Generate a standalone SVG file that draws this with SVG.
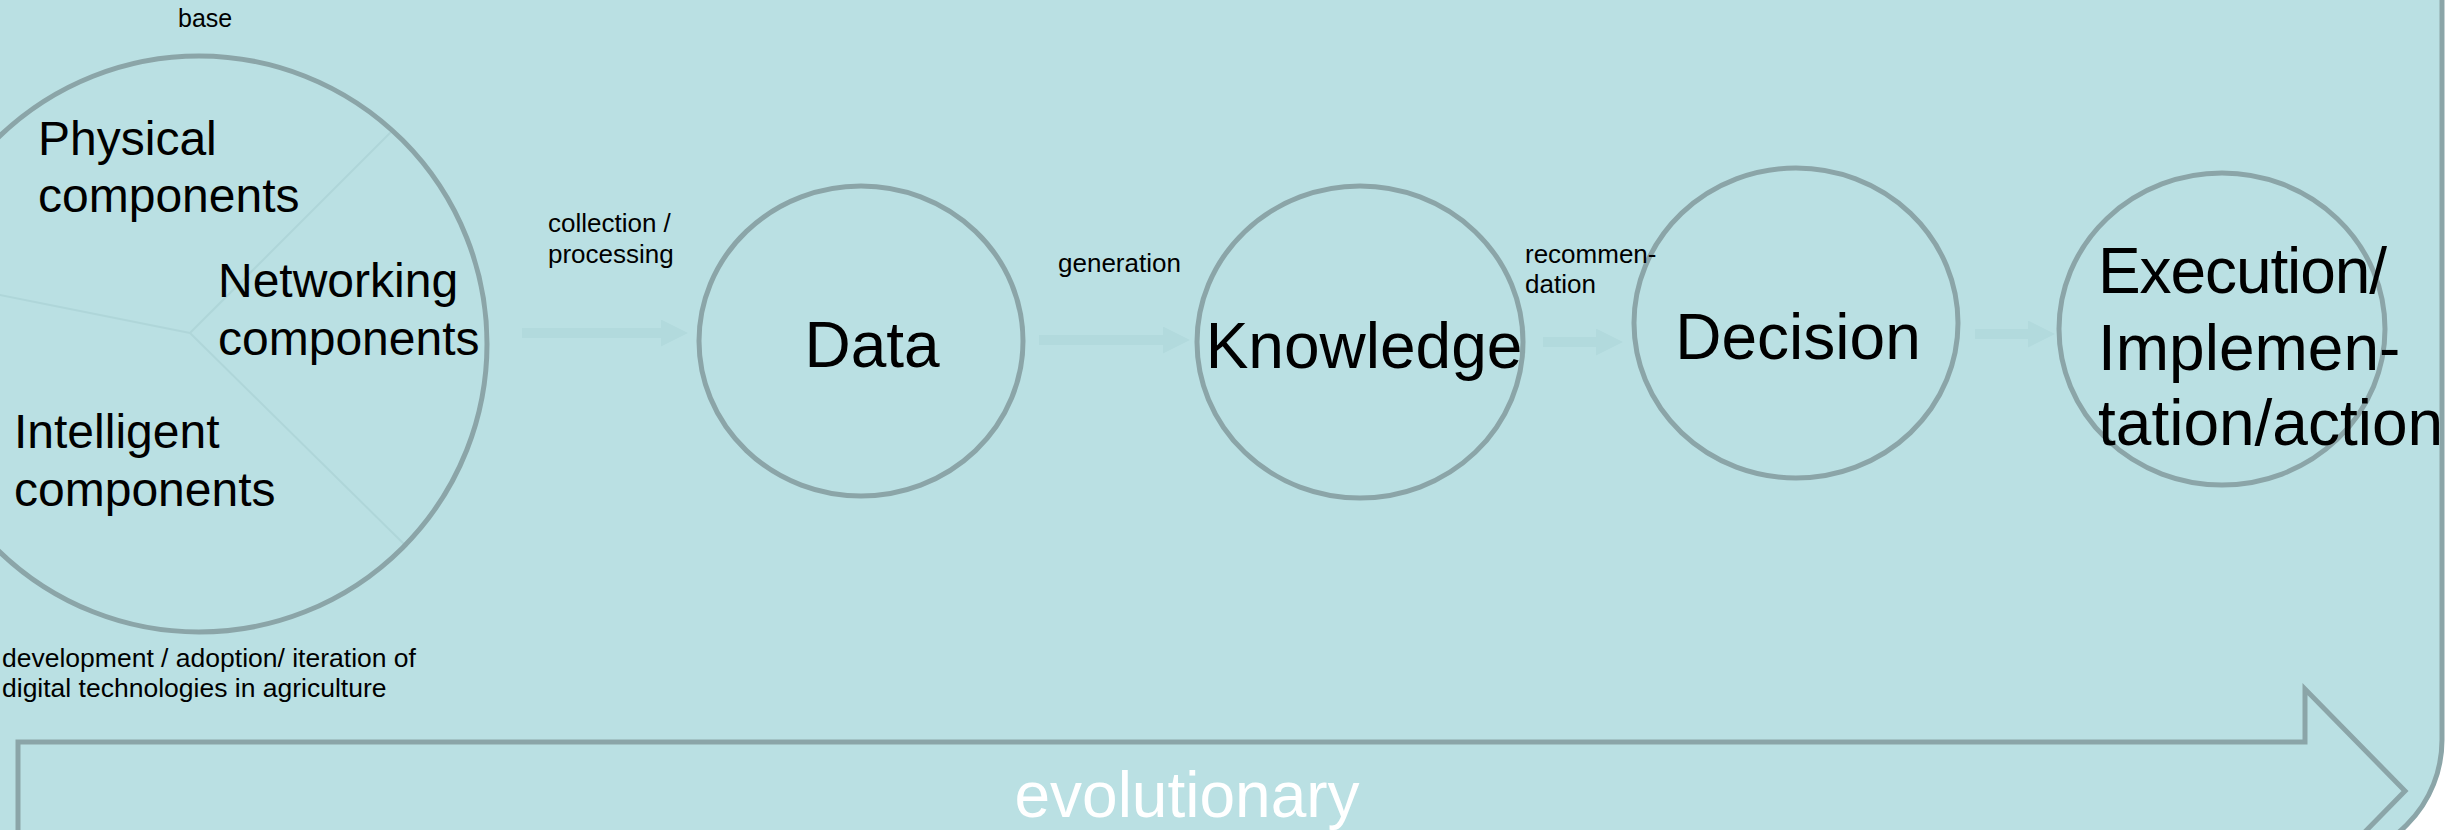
<svg xmlns="http://www.w3.org/2000/svg" width="2446" height="830" viewBox="0 0 2446 830">
  <defs>
    <style>
      .panel { fill: #BAE0E3; stroke: #8BA5A8; stroke-width: 5; }
      .ring { fill: none; stroke: #8BA5A8; stroke-width: 5; }
      .divider { stroke: #AFD6D9; stroke-width: 2; fill: none; }
      .flow { stroke: #B2DADD; stroke-width: 10; fill: none; }
      .txt { font-family: "Liberation Sans", Arial, sans-serif; fill: #000; }
      .big { font-size: 64px; }
      .mid { font-size: 48px; }
      .small { font-size: 26px; }
      .evo { font-family: "Liberation Sans", Arial, sans-serif; font-size: 64px; fill: #FFFFFF; }
    </style>
    <marker id="head" viewBox="0 0 27 27" refX="0" refY="13.5" markerUnits="userSpaceOnUse" markerWidth="27" markerHeight="27" orient="auto">
      <path d="M0,0 L27,13.5 L0,27 Z" fill="#B2DADD"/>
    </marker>
  </defs>

  <!-- page background and rounded panel -->
  <rect x="0" y="0" width="2446" height="830" fill="#FFFFFF"/>
  <rect class="panel" x="-200" y="-200" width="2642" height="1060" rx="120" ry="120"/>

  <!-- base: the three component sectors -->
  <g id="node-base">
    <line class="divider" x1="190" y1="333" x2="393" y2="130"/>
    <line class="divider" x1="190" y1="333" x2="-100" y2="275"/>
    <line class="divider" x1="190" y1="333" x2="407" y2="547"/>
    <circle class="ring" cx="199" cy="344" r="288"/>
    <text class="txt small" x="178" y="27" style="font-size:25px">base</text>
    <text class="txt mid" x="38" y="155">Physical</text>
    <text class="txt mid" x="38" y="212">components</text>
    <text class="txt mid" x="218" y="297">Networking</text>
    <text class="txt mid" x="218" y="355">components</text>
    <text class="txt mid" x="14" y="448">Intelligent</text>
    <text class="txt mid" x="14" y="506">components</text>
    <text class="txt small" x="2" y="667" style="font-size:26.5px">development / adoption/ iteration of</text>
    <text class="txt small" x="2" y="697" style="font-size:26.5px">digital technologies in agriculture</text>
  </g>

  <g id="node-data">
    <ellipse class="ring" cx="861" cy="341" rx="162" ry="155"/>
    <text class="txt big" x="872" y="367" text-anchor="middle">Data</text>
  </g>

  <g id="node-knowledge">
    <ellipse class="ring" cx="1360" cy="342" rx="163" ry="156"/>
    <text class="txt big" x="1364" y="368" text-anchor="middle">Knowledge</text>
  </g>

  <g id="node-decision">
    <ellipse class="ring" cx="1796" cy="323" rx="162" ry="155"/>
    <text class="txt big" x="1798" y="359" text-anchor="middle">Decision</text>
  </g>

  <g id="node-execution">
    <ellipse class="ring" cx="2222" cy="329" rx="163" ry="156"/>
    <text class="txt big" x="2098" y="293" textLength="289" lengthAdjust="spacing">Execution/</text>
    <text class="txt big" x="2098" y="370">Implemen-</text>
    <text class="txt big" x="2098" y="445">tation/action</text>
  </g>

  <!-- flow connectors with their labels -->
  <g id="connectors">
    <line class="flow" x1="522" y1="333" x2="661" y2="333" marker-end="url(#head)"/>
    <line class="flow" x1="1039" y1="340" x2="1163" y2="340" marker-end="url(#head)"/>
    <line class="flow" x1="1543" y1="342" x2="1596" y2="342" marker-end="url(#head)"/>
    <line class="flow" x1="1975" y1="334" x2="2028" y2="334" marker-end="url(#head)"/>
    <text class="txt small" x="548" y="232">collection /</text>
    <text class="txt small" x="548" y="263">processing</text>
    <text class="txt small" x="1058" y="272">generation</text>
    <text class="txt small" x="1525" y="263">recommen-</text>
    <text class="txt small" x="1525" y="293">dation</text>
  </g>

  <!-- evolutionary block arrow -->
  <g id="node-evolutionary">
    <polygon class="ring" points="18,742 2305,742 2305,689 2405,791 2305,893 2305,840 18,840"/>
    <text class="evo" x="1187" y="817" text-anchor="middle">evolutionary</text>
  </g>
</svg>
